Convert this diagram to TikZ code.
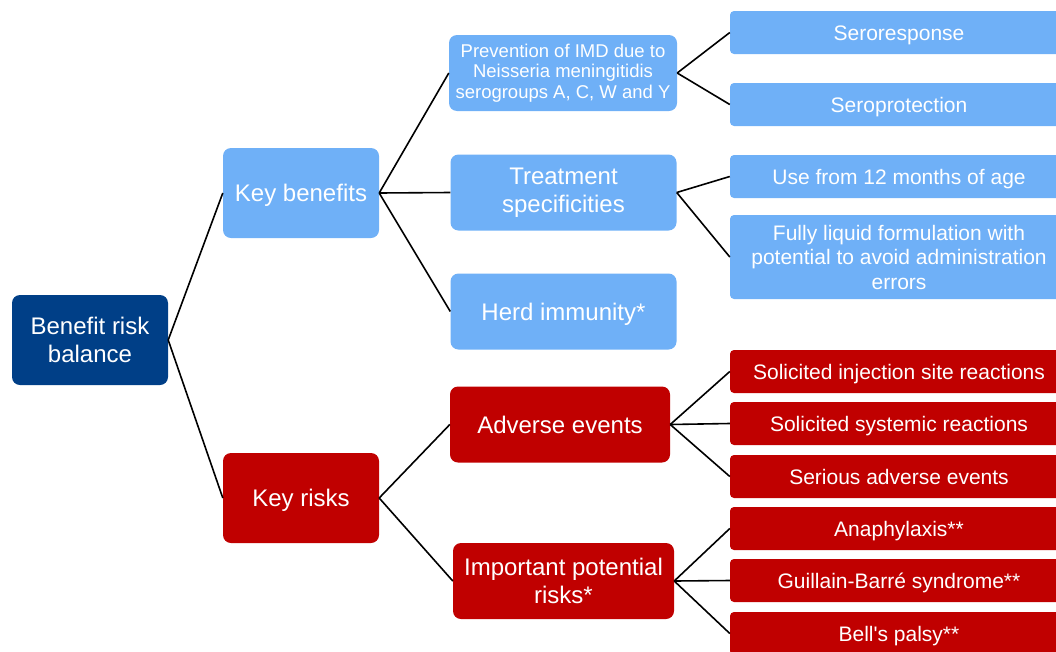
\documentclass[tikz,border=0pt]{standalone}
\usepackage{fontspec}
\setmainfont{Liberation Sans}
\usetikzlibrary{positioning}

\definecolor{brdark}{RGB}{0,63,135}
\definecolor{brlight}{RGB}{111,176,247}
\definecolor{brred}{RGB}{192,0,0}

\begin{document}
\begin{tikzpicture}[
    x=1pt, y=-1pt,
    box/.style={rounded corners=8pt, text=white, align=center, inner sep=2pt},
    big/.style={box, font=\fontsize{24}{28.5}\selectfont},
    mid/.style={box, minimum width=226pt, minimum height=76pt},
    oneline/.style={text height=17.5pt, text depth=0.5pt},
    leaf/.style={box, rounded corners=4pt, minimum width=338pt, minimum height=43pt,
                 text height=15.5pt, text depth=0.5pt,
                 font=\fontsize{21}{24.5}\selectfont},
    link/.style={line width=1.6pt}
]

\useasboundingbox (0,0) rectangle (1056,651);
\clip (0,0) rectangle (1056,651);

% Raiz
\node[big, fill=brdark, minimum width=156pt, minimum height=90pt] (balance) at (90,340) {Benefit risk\\balance};

% Nivel 1
\node[big, oneline, fill=brlight, minimum width=156pt, minimum height=90pt] (benefits) at (301,193) {Key benefits};
\node[big, oneline, fill=brred, minimum width=156pt, minimum height=90pt] (risks) at (301,498) {Key risks};

% Nivel 2: beneficios
\node[mid, fill=brlight, minimum width=228pt, font=\fontsize{18.5}{20.5}\selectfont] (prevention) at (563,73)
{Prevention of IMD due to\\Neisseria meningitidis\\serogroups A, C, W and Y};
\node[mid, big, fill=brlight] (treatment) at (563.5,192.5) {Treatment\\specificities};
\node[mid, big, oneline, fill=brlight] (herd) at (563.5,311.5) {Herd immunity*};

% Nivel 2: riesgos
\node[mid, big, oneline, fill=brred, minimum width=220pt] (adverse) at (560,424.5) {Adverse events};
\node[mid, big, fill=brred, minimum width=221pt] (potential) at (563.5,581) {Important potential\\risks*};

% Hojas
\node[leaf, fill=brlight] (seroresp) at (899,32.5) {Seroresponse};
\node[leaf, fill=brlight] (seroprot) at (899,104.5) {Seroprotection};
\node[leaf, fill=brlight] (months) at (899,176.5) {Use from 12 months of age};
\node[leaf, fill=brlight, minimum height=84pt, text height=, text depth=] (liquid) at (899,257)
{Fully liquid formulation with\\potential to avoid administration\\errors};
\node[leaf, fill=brred] (injection) at (899,371.5) {Solicited injection site reactions};
\node[leaf, fill=brred] (systemic) at (899,423.5) {Solicited systemic reactions};
\node[leaf, fill=brred] (serious) at (899,476.5) {Serious adverse events};
\node[leaf, fill=brred] (anaphylaxis) at (899,528.5) {Anaphylaxis**};
\node[leaf, fill=brred] (guillain) at (899,580.5) {Guillain-Barré syndrome**};
\node[leaf, fill=brred] (bell) at (899,633.5) {Bell\textquotesingle s palsy**};

% Conectores
\draw[link] (balance.east) -- (benefits.west);
\draw[link] (balance.east) -- (risks.west);
\draw[link] (benefits.east) -- (prevention.west);
\draw[link] (benefits.east) -- (treatment.west);
\draw[link] (benefits.east) -- (herd.west);
\draw[link] (risks.east) -- (adverse.west);
\draw[link] (risks.east) -- (potential.west);
\draw[link] (prevention.east) -- (seroresp.west);
\draw[link] (prevention.east) -- (seroprot.west);
\draw[link] (treatment.east) -- (months.west);
\draw[link] (treatment.east) -- (liquid.west);
\draw[link] (adverse.east) -- (injection.west);
\draw[link] (adverse.east) -- (systemic.west);
\draw[link] (adverse.east) -- (serious.west);
\draw[link] (potential.east) -- (anaphylaxis.west);
\draw[link] (potential.east) -- (guillain.west);
\draw[link] (potential.east) -- (bell.west);

\end{tikzpicture}
\end{document}
